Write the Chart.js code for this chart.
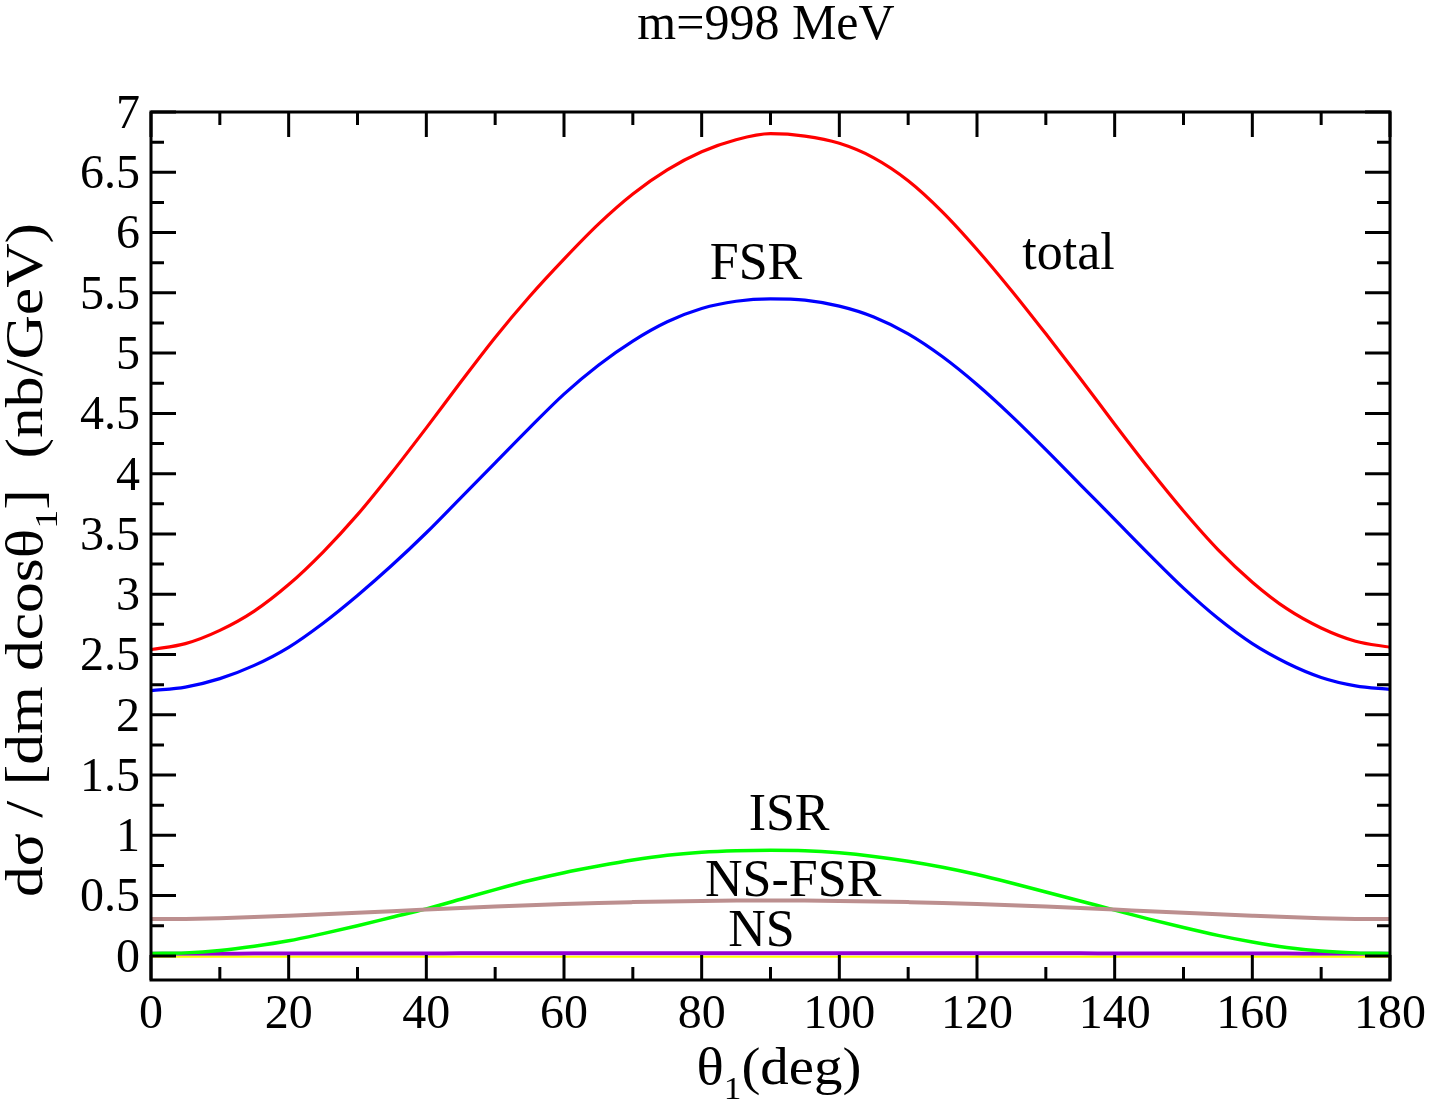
<!DOCTYPE html>
<html>
<head>
<meta charset="utf-8">
<title>m=998 MeV</title>
<script src="https://cdn.jsdelivr.net/npm/chart.js@4.4.1/dist/chart.umd.min.js"></script>
<style>
  html, body { margin: 0; padding: 0; background: #fff; }
  #chart { display: block; }
</style>
</head>
<body>
<canvas id="chart" width="1432" height="1107"></canvas>
<script>
// angle grid (deg) and cross sections (nb/GeV)
const theta = [0, 5, 10, 15, 20, 25, 30, 35, 40, 45, 50, 55, 60, 65, 70, 75, 80, 85, 90,
  95, 100, 105, 110, 115, 120, 125, 130, 135, 140, 145, 150, 155, 160, 165, 170, 175, 180]

const total = [2.54, 2.59, 2.70, 2.86, 3.08, 3.35, 3.66, 4.01, 4.38, 4.76, 5.13, 5.47, 5.78, 6.07, 6.32, 6.52, 6.67, 6.77, 6.82,
  6.80, 6.74, 6.62, 6.43, 6.17, 5.86, 5.52, 5.16, 4.79, 4.41, 4.04, 3.69, 3.37, 3.10, 2.88, 2.72, 2.61, 2.56]

const fsr = [2.20, 2.23, 2.30, 2.41, 2.56, 2.76, 2.99, 3.24, 3.51, 3.80, 4.09, 4.38, 4.66, 4.90, 5.10, 5.26, 5.37, 5.43, 5.45,
  5.44, 5.39, 5.30, 5.16, 4.97, 4.74, 4.48, 4.20, 3.91, 3.62, 3.33, 3.05, 2.80, 2.59, 2.43, 2.31, 2.24, 2.21]

const isr = [0.02, 0.025, 0.045, 0.08, 0.125, 0.185, 0.25, 0.32, 0.39, 0.47, 0.55, 0.625, 0.69, 0.745, 0.795, 0.835, 0.86, 0.873, 0.877,
  0.873, 0.855, 0.825, 0.785, 0.735, 0.675, 0.605, 0.53, 0.455, 0.38, 0.305, 0.235, 0.17, 0.115, 0.07, 0.04, 0.025, 0.02]

const nsFsr = [0.305, 0.307, 0.313, 0.322, 0.333, 0.345, 0.358, 0.371, 0.384, 0.397, 0.409, 0.420, 0.430, 0.439, 0.446, 0.452, 0.456, 0.459, 0.460,
  0.459, 0.456, 0.452, 0.446, 0.439, 0.430, 0.420, 0.409, 0.397, 0.384, 0.371, 0.358, 0.345, 0.333, 0.322, 0.313, 0.307, 0.305]

const ns = [0.018, 0.018, 0.018, 0.019, 0.019, 0.019, 0.020, 0.020, 0.020, 0.021, 0.021, 0.021, 0.021, 0.022, 0.022, 0.022, 0.022, 0.022, 0.022,
  0.022, 0.022, 0.022, 0.022, 0.022, 0.021, 0.021, 0.021, 0.021, 0.020, 0.020, 0.020, 0.019, 0.019, 0.019, 0.018, 0.018, 0.018]

const interf = [-0.008, -0.008, -0.008, -0.008, -0.008, -0.008, -0.008, -0.008, -0.008, -0.008, -0.008, -0.008, -0.008, -0.008, -0.008, -0.008, -0.008, -0.008, -0.008,
  -0.008, -0.008, -0.008, -0.008, -0.008, -0.008, -0.008, -0.008, -0.008, -0.008, -0.008, -0.008, -0.008, -0.008, -0.008, -0.008, -0.008, -0.008]

const xTicks = [0, 20, 40, 60, 80, 100, 120, 140, 160, 180]
const yTicks = [0, 0.5, 1, 1.5, 2, 2.5, 3, 3.5, 4, 4.5, 5, 5.5, 6, 6.5, 7]

// curve labels, placed in data coordinates
const labels = [
  { text: 'total', x: 133.3, y: 5.84 },
  { text: 'FSR', x: 87.9, y: 5.76 },
  { text: 'ISR', x: 92.7, y: 1.19 },
  { text: 'NS-FSR', x: 93.3, y: 0.64 },
  { text: 'NS', x: 88.7, y: 0.228 }
]

const SERIF = "'Liberation Serif', 'DejaVu Serif', serif"

const pts = ys => theta.map((t, i) => ({ x: t, y: ys[i] }))

// draws text runs with subscripts, centred on 0 along the baseline,
// stretched to a target length when one is given
function drawRuns(ctx, runs, size, target) {
  const subSize = size * 0.62
  let w = 0
  runs.forEach(r => {
    ctx.font = (r.sub ? subSize : size) + 'px ' + SERIF
    r.w = ctx.measureText(r.t).width
    w += r.w
  })
  const k = target ? target / w : 1
  ctx.scale(k, 1)
  let cx = -w / 2
  runs.forEach(r => {
    ctx.font = (r.sub ? subSize : size) + 'px ' + SERIF
    ctx.fillText(r.t, cx, r.sub ? size * 0.28 : 0)
    cx += r.w
  })
}

const axesPlugin = {
  id: 'graceAxes',
  afterDatasetsDraw(chart) {
    const { ctx, chartArea: a, scales: { x, y } } = chart
    ctx.save()
    ctx.strokeStyle = '#000'
    ctx.fillStyle = '#000'
    ctx.lineWidth = 3
    ctx.lineCap = 'butt'

    // ticks on all four sides, pointing in
    const major = 25, minor = 13
    ctx.beginPath()
    xTicks.forEach((v, i) => {
      const px = x.getPixelForValue(v)
      ctx.moveTo(px, a.bottom); ctx.lineTo(px, a.bottom - major)
      ctx.moveTo(px, a.top); ctx.lineTo(px, a.top + major)
      if (i < xTicks.length - 1) {
        const pm = x.getPixelForValue((v + xTicks[i + 1]) / 2)
        ctx.moveTo(pm, a.bottom); ctx.lineTo(pm, a.bottom - minor)
        ctx.moveTo(pm, a.top); ctx.lineTo(pm, a.top + minor)
      }
    })
    yTicks.forEach((v, i) => {
      const py = y.getPixelForValue(v)
      ctx.moveTo(a.left, py); ctx.lineTo(a.left + major, py)
      ctx.moveTo(a.right, py); ctx.lineTo(a.right - major, py)
      const step = i < yTicks.length - 1 ? yTicks[i + 1] - v : 0
      if (step) {
        const pm = y.getPixelForValue(v + step / 2)
        ctx.moveTo(a.left, pm); ctx.lineTo(a.left + minor, pm)
        ctx.moveTo(a.right, pm); ctx.lineTo(a.right - minor, pm)
      }
    })
    ctx.stroke()
    ctx.strokeRect(a.left, a.top, a.right - a.left, a.bottom - a.top)

    // tick labels
    const fs = 48
    ctx.font = fs + 'px ' + SERIF
    ctx.textBaseline = 'alphabetic'
    ctx.textAlign = 'center'
    xTicks.forEach(v => ctx.fillText(String(v), x.getPixelForValue(v), a.bottom + 48))
    ctx.textAlign = 'right'
    yTicks.forEach(v => ctx.fillText(String(v), a.left - 11, y.getPixelForValue(v) + fs * 0.33))

    // curve labels
    ctx.textAlign = 'center'
    ctx.font = '52px ' + SERIF
    labels.forEach(l => ctx.fillText(l.text, x.getPixelForValue(l.x), y.getPixelForValue(l.y) + 52 * 0.33))

    // title
    ctx.font = '50px ' + SERIF
    ctx.fillText('m=998 MeV', 766, 39)

    // x axis title
    ctx.textAlign = 'left'
    ctx.save()
    ctx.translate(779, 1084)
    drawRuns(ctx, [{ t: 'θ' }, { t: '1', sub: true }, { t: '(deg)' }], 52, 165)
    ctx.restore()

    // y axis title
    ctx.save()
    ctx.translate(42, 560)
    ctx.rotate(-Math.PI / 2)
    drawRuns(ctx, [{ t: 'dσ / [dm dcosθ' }, { t: '1', sub: true }, { t: ']  (nb/GeV)' }], 52, 674)
    ctx.restore()

    ctx.restore()
  }
}

const line = (data, color, width) => ({
  data: pts(data),
  borderColor: color,
  borderWidth: width,
  pointRadius: 0,
  fill: false,
  cubicInterpolationMode: 'monotone'
})

new Chart(document.getElementById('chart').getContext('2d'), {
  type: 'line',
  data: {
    datasets: [
      line(interf, '#ffff00', 2),
      line(nsFsr, '#bc8f8f', 4),
      line(isr, '#00ff00', 3.5),
      line(ns, '#9400d3', 4),
      line(fsr, '#0000ff', 3.2),
      line(total, '#ff0000', 3.2)
    ]
  },
  options: {
    responsive: false,
    animation: false,
    layout: { padding: { left: 151, right: 42, top: 112, bottom: 127 } },
    plugins: { legend: { display: false }, tooltip: { enabled: false } },
    scales: {
      x: { type: 'linear', min: 0, max: 180, display: false },
      y: { type: 'linear', min: -0.2, max: 7, display: false }
    }
  },
  plugins: [axesPlugin]
})
</script>
</body>
</html>
